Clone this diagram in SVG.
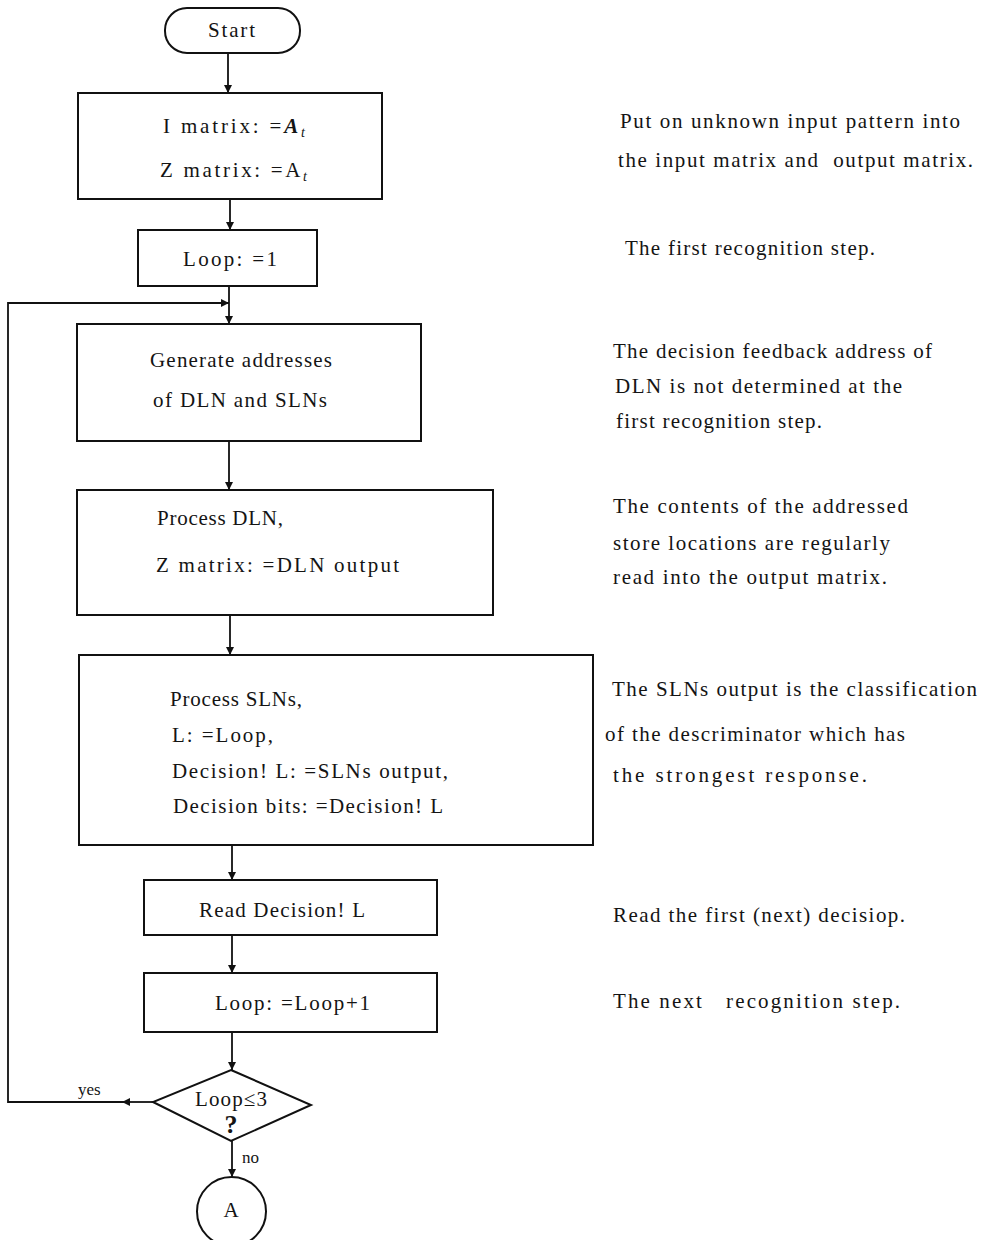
<svg xmlns="http://www.w3.org/2000/svg" width="984" height="1240" viewBox="0 0 984 1240">
  <defs>
    <marker id="arrow" viewBox="0 0 10 10" refX="10" refY="5" markerWidth="8" markerHeight="8" markerUnits="userSpaceOnUse" orient="auto">
      <path d="M0,0 L10,5 L0,10 z" fill="#111"/>
    </marker>
    <style>
      .shape { fill: #fff; stroke: #111; stroke-width: 2; }
      .flow { fill: none; stroke: #111; stroke-width: 1.8; marker-end: url(#arrow); }
      text { font-family: "Liberation Serif", "Times New Roman", serif; fill: #141414; }
      .box { font-size: 21px; }
      .note { font-size: 21px; }
      .pre { white-space: pre; }
      .small { font-size: 17px; }
    </style>
  </defs>

  <rect width="984" height="1240" fill="#fff"/>

  <!-- connectors -->
  <g id="connectors">
    <line class="flow" x1="228" y1="53" x2="228" y2="93"/>
    <line class="flow" x1="230" y1="199" x2="230" y2="230"/>
    <line class="flow" x1="229" y1="286" x2="229" y2="324"/>
    <line class="flow" x1="229" y1="441" x2="229" y2="490"/>
    <line class="flow" x1="230" y1="615" x2="230" y2="655"/>
    <line class="flow" x1="232" y1="845" x2="232" y2="880"/>
    <line class="flow" x1="232" y1="935" x2="232" y2="973"/>
    <line class="flow" x1="232" y1="1032" x2="232" y2="1070"/>
    <line class="flow" x1="232" y1="1141" x2="232" y2="1177"/>
    <!-- yes branch: back to the top of the loop -->
    <line class="flow" x1="153" y1="1102" x2="122" y2="1102"/>
    <polyline class="flow" points="124,1102 8,1102 8,303 229,303"/>
    <text class="small" x="78" y="1095" fill="#555">yes</text>
    <text class="small" x="242" y="1163">no</text>
  </g>

  <!-- flowchart nodes -->
  <g id="start">
    <rect class="shape" x="165" y="8" width="135" height="45" rx="22" ry="22"/>
    <text class="box" x="208" y="37" textLength="47">Start</text>
  </g>

  <g id="init">
    <rect class="shape" x="78" y="93" width="304" height="106"/>
    <text class="box" x="163" y="133" textLength="142">I matrix: =<tspan font-weight="bold" font-style="italic">A</tspan><tspan font-style="italic" font-size="14" dy="4">t</tspan></text>
    <text class="box" x="160" y="177" textLength="147">Z matrix: =A<tspan font-style="italic" font-size="14" dy="4">t</tspan></text>
  </g>

  <g id="loop-init">
    <rect class="shape" x="138" y="230" width="179" height="56"/>
    <text class="box" x="183" y="266" textLength="94">Loop: =1</text>
  </g>

  <g id="generate">
    <rect class="shape" x="77" y="324" width="344" height="117"/>
    <text class="box" x="150" y="367" textLength="182">Generate addresses</text>
    <text class="box" x="153" y="407" textLength="174">of DLN and SLNs</text>
  </g>

  <g id="process-dln">
    <rect class="shape" x="77" y="490" width="416" height="125"/>
    <text class="box" x="157" y="525" textLength="126">Process DLN,</text>
    <text class="box" x="156" y="572" textLength="243">Z matrix: =DLN output</text>
  </g>

  <g id="process-slns">
    <rect class="shape" x="79" y="655" width="514" height="190"/>
    <text class="box" x="170" y="706" textLength="132">Process SLNs,</text>
    <text class="box" x="172" y="742" textLength="101">L: =Loop,</text>
    <text class="box" x="172" y="778" textLength="276">Decision! L: =SLNs output,</text>
    <text class="box" x="173" y="813" textLength="270">Decision bits: =Decision! L</text>
  </g>

  <g id="read-decision">
    <rect class="shape" x="144" y="880" width="293" height="55"/>
    <text class="box" x="199" y="917" textLength="166">Read Decision! L</text>
  </g>

  <g id="loop-inc">
    <rect class="shape" x="144" y="973" width="293" height="59"/>
    <text class="box" x="215" y="1010" textLength="155">Loop: =Loop+1</text>
  </g>

  <g id="decision">
    <polygon class="shape" points="231,1070 311,1105 231,1141 153,1102"/>
    <text class="box" x="195" y="1106" textLength="72">Loop≤3</text>
    <text x="231" y="1133" text-anchor="middle" font-weight="bold" font-size="26">?</text>
  </g>

  <g id="connector-a">
    <circle class="shape" cx="231.5" cy="1211.5" r="34.5"/>
    <text class="box" x="231" y="1217" text-anchor="middle">A</text>
  </g>

  <!-- explanatory notes -->
  <g id="notes">
    <text class="note" x="620" y="128" textLength="340">Put on unknown input pattern into</text>
    <text class="note pre" x="618" y="167" textLength="355">the input matrix and  output matrix.</text>
    <text class="note" x="625" y="255" textLength="250">The first recognition step.</text>
    <text class="note" x="613" y="358" textLength="319">The decision feedback address of</text>
    <text class="note" x="615" y="393" textLength="287">DLN is not determined at the</text>
    <text class="note" x="616" y="428" textLength="206">first recognition step.</text>
    <text class="note" x="613" y="513" textLength="295">The contents of the addressed</text>
    <text class="note" x="613" y="550" textLength="277">store locations are regularly</text>
    <text class="note" x="613" y="584" textLength="274">read into the output matrix.</text>
    <text class="note" x="612" y="696" textLength="365">The SLNs output is the classification</text>
    <text class="note" x="605" y="741" textLength="300">of the descriminator which has</text>
    <text class="note" x="613" y="782" textLength="254">the strongest response.</text>
    <text class="note" x="613" y="922" textLength="292">Read the first (next) decisiop.</text>
    <text class="note pre" x="613" y="1008" textLength="287">The next   recognition step.</text>
  </g>
</svg>
